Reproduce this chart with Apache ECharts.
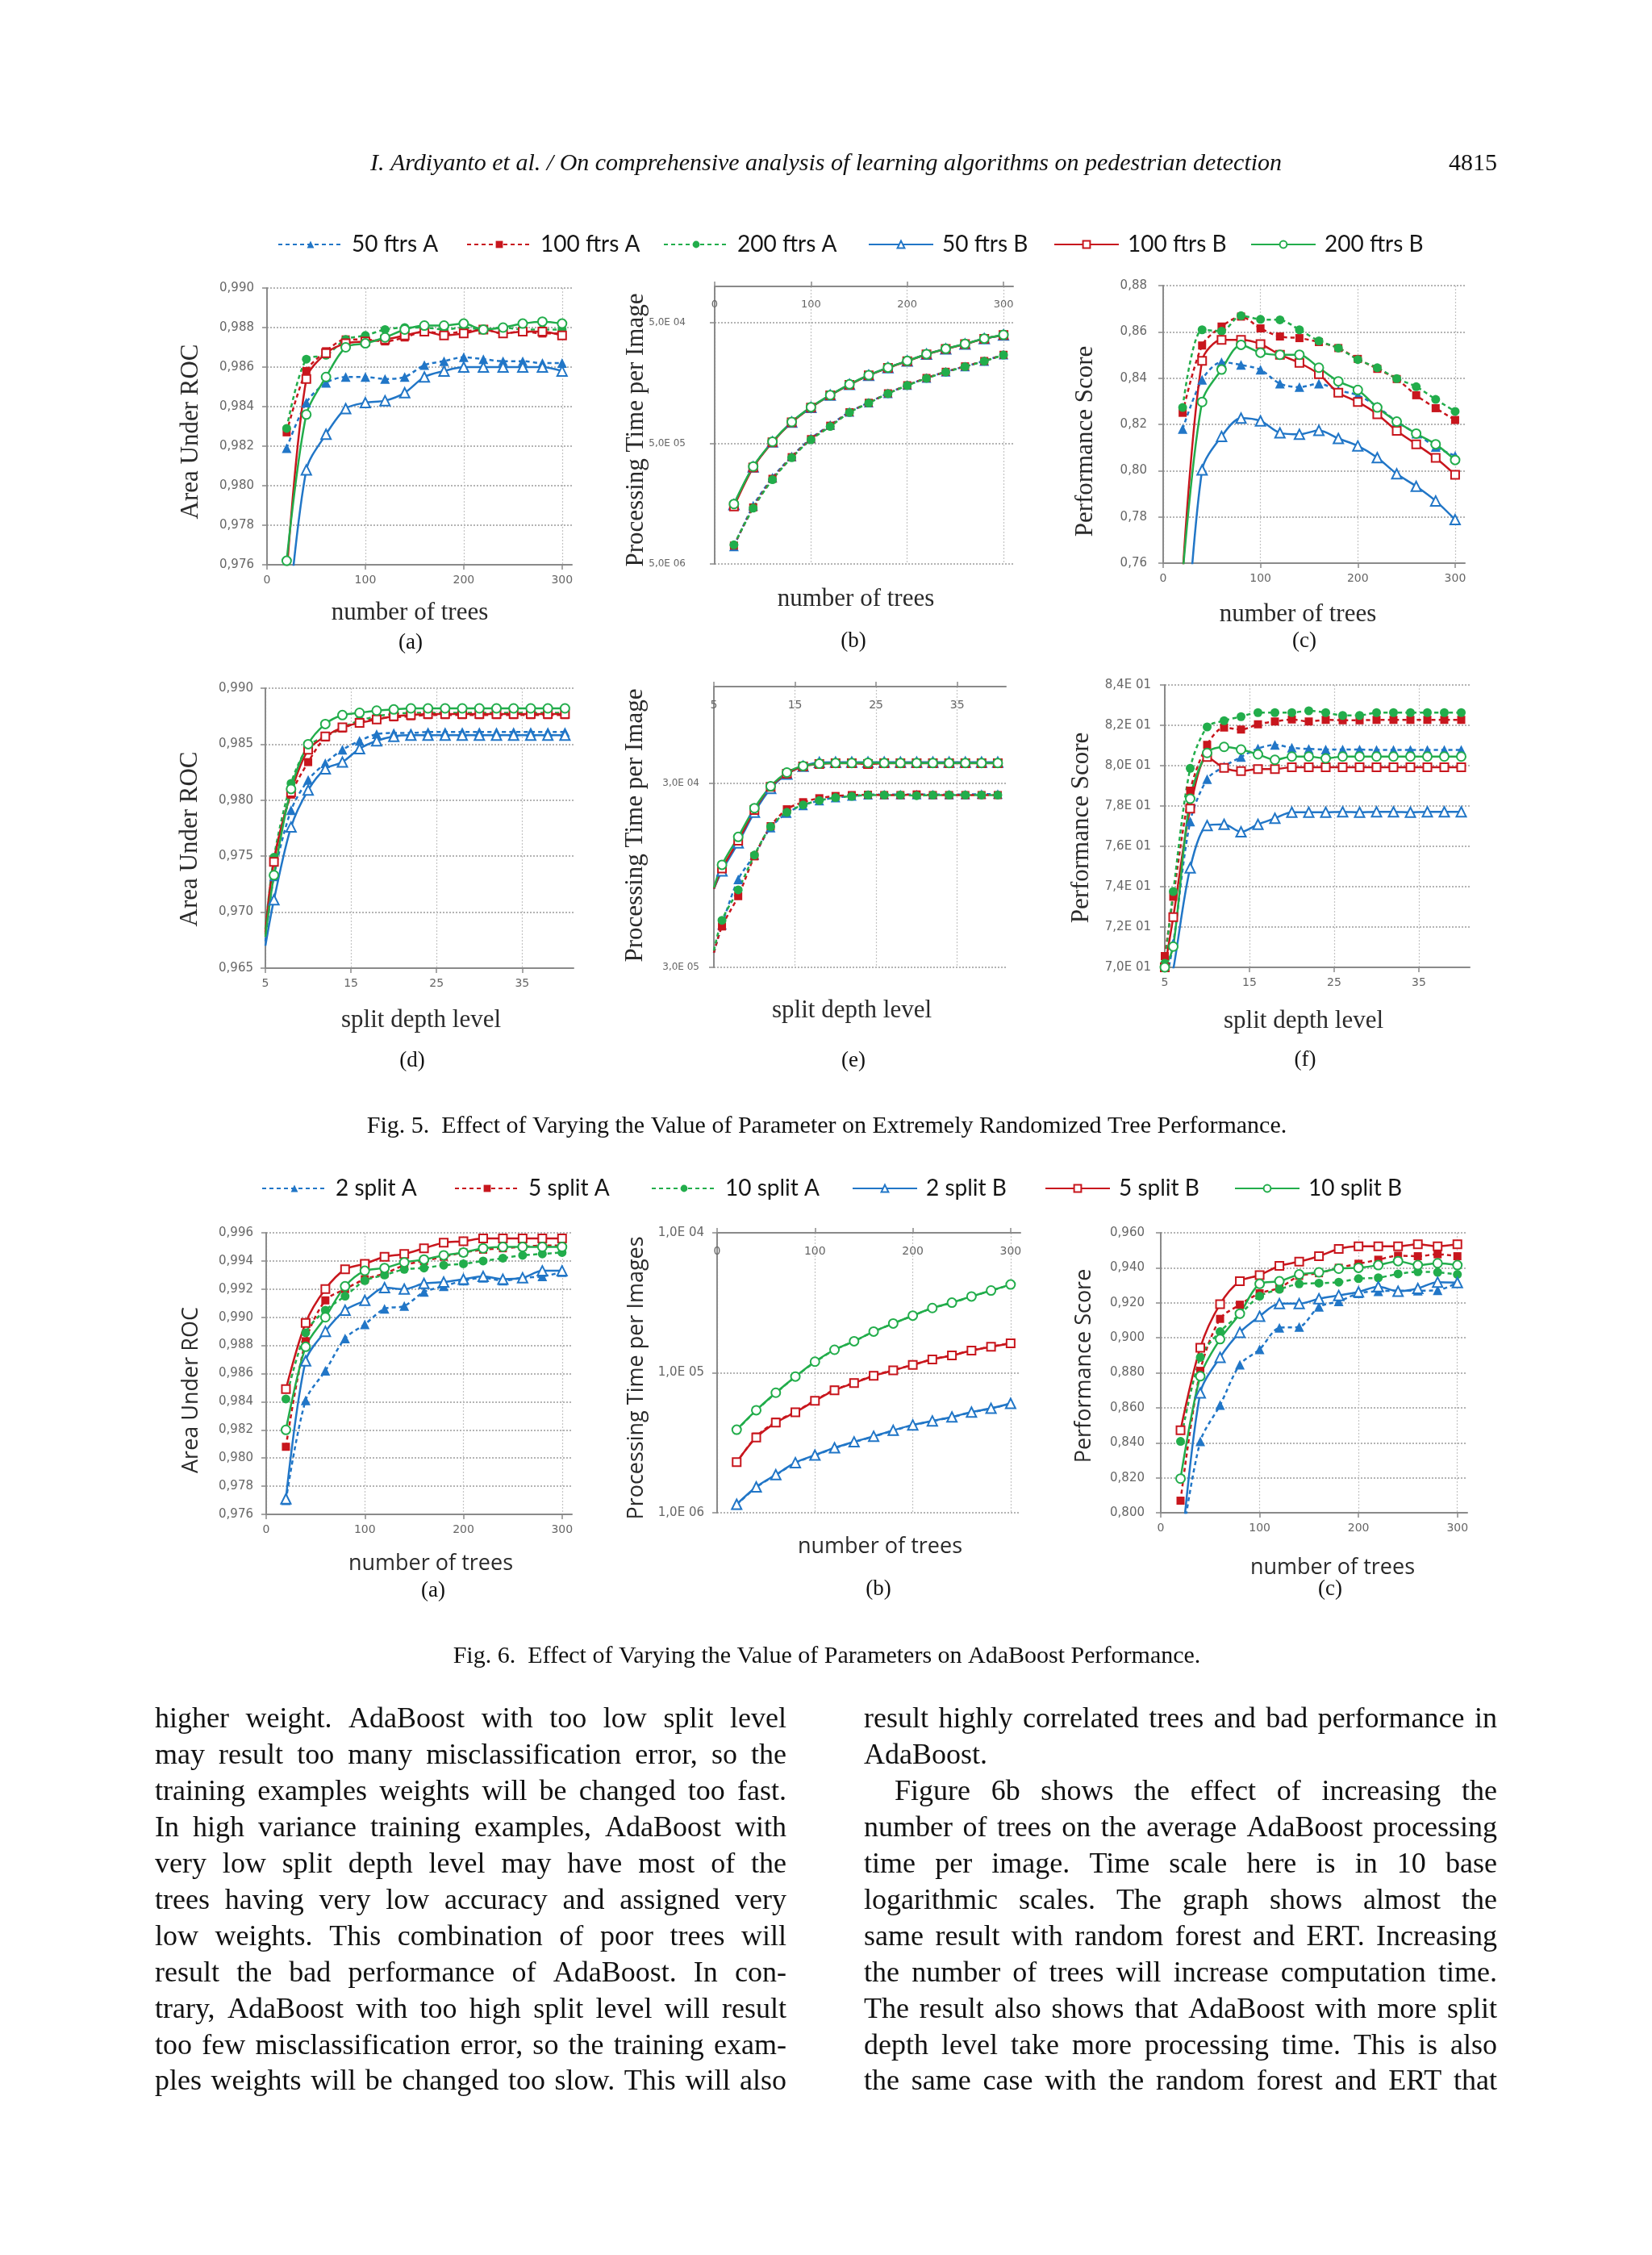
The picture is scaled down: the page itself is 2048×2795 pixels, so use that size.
<!DOCTYPE html>
<html><head><meta charset="utf-8">
<script src="https://cdn.jsdelivr.net/npm/echarts@6/dist/echarts.min.js"></script>
<style>html,body{margin:0;padding:0;background:#fff;}#c{width:2048px;height:2795px;}</style>
</head><body><div id="c"></div>
<script>
// ---------- categories / x values ----------
const treesX = [20,40,60,80,100,120,140,160,180,200,220,240,260,280,300];
const depthX = [5,6,8,10,12,14,16,18,20,22,24,26,28,30,32,34,36,38,40];
const treeTicks = [0,100,200,300];
const depthTicks = [5,15,25,35];

// ---------- Fig 5 (a) AUC vs trees ----------
const a50A  = [0.9819,0.9842,0.9852,0.9855,0.9855,0.9854,0.9855,0.9861,0.9863,0.9865,0.9864,0.9863,0.9863,0.9862,0.9862];
const a100A = [0.9827,0.9858,0.9868,0.9874,0.9874,0.9873,0.9875,0.9878,0.9877,0.9878,0.9879,0.9877,0.9878,0.9877,0.9877];
const a200A = [0.9829,0.9864,0.9866,0.9874,0.9876,0.9879,0.9880,0.9880,0.9879,0.9880,0.9879,0.9880,0.9879,0.9879,0.9879];
const a50B  = [0.9724,0.9808,0.9826,0.9839,0.9842,0.9843,0.9847,0.9855,0.9858,0.9860,0.9860,0.9860,0.9860,0.9860,0.9858];
const a100B = [0.9755,0.9854,0.9867,0.9872,0.9873,0.9874,0.9876,0.9878,0.9876,0.9877,0.9879,0.9877,0.9878,0.9878,0.9876];
const a200B = [0.9762,0.9836,0.9855,0.9870,0.9872,0.9875,0.9879,0.9881,0.9881,0.9882,0.9879,0.9880,0.9882,0.9883,0.9882];
// ---------- Fig 5 (b) time vs trees (log) ----------
const b50A  = [7.0e-6,1.52e-5,2.60e-5,3.90e-5,5.50e-5,7.10e-5,9.10e-5,1.09e-4,1.30e-4,1.52e-4,1.74e-4,1.96e-4,2.17e-4,2.41e-4,2.72e-4];
const b100A = [7.1e-6,1.47e-5,2.54e-5,3.84e-5,5.42e-5,7.00e-5,9.06e-5,1.085e-4,1.299e-4,1.516e-4,1.741e-4,1.96e-4,2.173e-4,2.408e-4,2.71e-4];
const b200A = [7.2e-6,1.45e-5,2.50e-5,3.80e-5,5.35e-5,6.90e-5,9.00e-5,1.08e-4,1.29e-4,1.51e-4,1.73e-4,1.95e-4,2.16e-4,2.40e-4,2.70e-4];
const b50B  = [1.55e-5,3.19e-5,5.14e-5,7.49e-5,9.94e-5,1.253e-4,1.539e-4,1.833e-4,2.118e-4,2.408e-4,2.74e-4,3.036e-4,3.33e-4,3.69e-4,3.96e-4];
const b100B = [1.50e-5,3.15e-5,5.10e-5,7.45e-5,9.90e-5,1.25e-4,1.53e-4,1.83e-4,2.11e-4,2.40e-4,2.73e-4,3.03e-4,3.32e-4,3.68e-4,3.95e-4];
const b200B = [1.57e-5,3.21e-5,5.16e-5,7.52e-5,9.98e-5,1.256e-4,1.543e-4,1.837e-4,2.122e-4,2.412e-4,2.745e-4,3.04e-4,3.335e-4,3.695e-4,3.97e-4];
// ---------- Fig 5 (c) performance vs trees ----------
const c50A  = [0.8180,0.8393,0.8469,0.8457,0.8436,0.8376,0.8361,0.8376,0.8347,0.8326,0.8277,0.8212,0.8160,0.8102,0.8064];
const c100A = [0.8250,0.8541,0.8623,0.8666,0.8615,0.8580,0.8573,0.8556,0.8530,0.8483,0.8440,0.8396,0.8326,0.8270,0.8219];
const c200A = [0.8273,0.8609,0.8603,0.8670,0.8654,0.8652,0.8609,0.8561,0.8530,0.8480,0.8445,0.8398,0.8363,0.8308,0.8256];
const c50B  = [0.7000,0.8003,0.8148,0.8227,0.8215,0.8163,0.8157,0.8174,0.8139,0.8107,0.8056,0.7986,0.7932,0.7869,0.7788];
const c100B = [0.7550,0.8475,0.8565,0.8565,0.8547,0.8501,0.8466,0.8417,0.8337,0.8297,0.8244,0.8172,0.8114,0.8055,0.7982];
const c200B = [0.7550,0.8297,0.8437,0.8544,0.8510,0.8501,0.8501,0.8445,0.8386,0.8349,0.8273,0.8212,0.8160,0.8114,0.8046];
// ---------- Fig 5 (d) AUC vs depth ----------
const d50A  = [0.9674,0.9732,0.9791,0.9818,0.9833,0.9845,0.9853,0.9859,0.9860,0.9860,0.9861,0.9861,0.9861,0.9861,0.9861,0.9861,0.9861,0.9861,0.9861];
const d100A = [0.9682,0.9747,0.9805,0.9834,0.9856,0.9864,0.9870,0.9873,0.9874,0.9875,0.9876,0.9876,0.9876,0.9876,0.9876,0.9876,0.9876,0.9876,0.9876];
const d200A = [0.9685,0.9749,0.9815,0.9848,0.9857,0.9865,0.9871,0.9875,0.9877,0.9878,0.9878,0.9878,0.9878,0.9878,0.9878,0.9878,0.9878,0.9878,0.9878];
const d50B  = [0.9670,0.9711,0.9776,0.9809,0.9828,0.9834,0.9846,0.9853,0.9857,0.9858,0.9858,0.9858,0.9858,0.9858,0.9858,0.9858,0.9858,0.9858,0.9858];
const d100B = [0.9680,0.9745,0.9807,0.9845,0.9857,0.9865,0.9869,0.9872,0.9875,0.9876,0.9877,0.9877,0.9877,0.9877,0.9877,0.9877,0.9877,0.9877,0.9877];
const d200B = [0.9678,0.9733,0.9810,0.9850,0.9868,0.9876,0.9878,0.9880,0.9881,0.9882,0.9882,0.9882,0.9882,0.9882,0.9882,0.9882,0.9882,0.9882,0.9882];
// ---------- Fig 5 (e) time vs depth (log) ----------
const e50A  = [3.6e-5,5.1e-5,9.0e-5,1.22e-4,1.72e-4,2.06e-4,2.27e-4,2.41e-4,2.50e-4,2.55e-4,2.59e-4,2.60e-4,2.60e-4,2.60e-4,2.60e-4,2.60e-4,2.60e-4,2.61e-4,2.61e-4];
const e100A = [3.6e-5,5.0e-5,7.3e-5,1.20e-4,1.75e-4,2.16e-4,2.36e-4,2.48e-4,2.55e-4,2.58e-4,2.59e-4,2.58e-4,2.58e-4,2.60e-4,2.58e-4,2.58e-4,2.58e-4,2.58e-4,2.58e-4];
const e200A = [3.7e-5,5.4e-5,7.9e-5,1.22e-4,1.74e-4,2.08e-4,2.28e-4,2.41e-4,2.50e-4,2.54e-4,2.58e-4,2.58e-4,2.58e-4,2.56e-4,2.58e-4,2.58e-4,2.58e-4,2.58e-4,2.58e-4];
const e50B  = [8.0e-5,1.00e-4,1.42e-4,2.08e-4,2.80e-4,3.35e-4,3.70e-4,3.88e-4,3.89e-4,3.89e-4,3.89e-4,3.89e-4,3.89e-4,3.89e-4,3.89e-4,3.89e-4,3.89e-4,3.89e-4,3.89e-4];
const e100B = [8.0e-5,1.03e-4,1.46e-4,2.14e-4,2.86e-4,3.37e-4,3.69e-4,3.80e-4,3.84e-4,3.84e-4,3.80e-4,3.84e-4,3.84e-4,3.84e-4,3.84e-4,3.84e-4,3.84e-4,3.84e-4,3.84e-4];
const e200B = [8.1e-5,1.08e-4,1.53e-4,2.19e-4,2.88e-4,3.42e-4,3.71e-4,3.82e-4,3.85e-4,3.85e-4,3.86e-4,3.85e-4,3.85e-4,3.85e-4,3.85e-4,3.85e-4,3.85e-4,3.85e-4,3.85e-4];
// ---------- Fig 5 (f) performance vs depth ----------
const f50A  = [0.690,0.712,0.7723,0.7933,0.7996,0.8043,0.8085,0.8103,0.8089,0.8083,0.8080,0.8080,0.8080,0.8078,0.8078,0.8078,0.8078,0.8078,0.8078];
const f100A = [0.7056,0.735,0.7876,0.8103,0.8189,0.8179,0.8205,0.8219,0.8229,0.8219,0.8227,0.8225,0.8225,0.8227,0.8227,0.8227,0.8227,0.8227,0.8227];
const f200A = [0.702,0.7376,0.7987,0.8192,0.8223,0.8243,0.8263,0.8263,0.8263,0.8272,0.8263,0.8249,0.8249,0.8263,0.8263,0.8263,0.8263,0.8263,0.8263];
const f50B  = [0.680,0.699,0.7493,0.7703,0.7709,0.7672,0.7709,0.7739,0.7769,0.7769,0.7769,0.7771,0.7769,0.7771,0.7771,0.7769,0.7771,0.7771,0.7771];
const f100B = [0.700,0.7249,0.7787,0.8043,0.7989,0.7973,0.7983,0.7983,0.7992,0.7992,0.7992,0.7992,0.7992,0.7992,0.7992,0.7992,0.7992,0.7992,0.7992];
const f200B = [0.700,0.7103,0.7836,0.8063,0.8093,0.8080,0.8056,0.8029,0.8045,0.8045,0.8036,0.8045,0.8045,0.8045,0.8045,0.8045,0.8045,0.8045,0.8045];
// ---------- Fig 6 (a) AUC vs trees ----------
const g2A  = [0.9770,0.9841,0.9862,0.9885,0.9895,0.9906,0.9908,0.9918,0.9922,0.9926,0.9928,0.9926,0.9928,0.9929,0.9932];
const g5A  = [0.9808,0.9883,0.9912,0.9920,0.9927,0.9931,0.9937,0.9940,0.9943,0.9946,0.9948,0.9949,0.9950,0.9951,0.9951];
const g10A = [0.9842,0.9889,0.9905,0.9915,0.9926,0.9930,0.9934,0.9935,0.9937,0.9938,0.9940,0.9942,0.9944,0.9945,0.9946];
const g2B  = [0.9771,0.9869,0.9890,0.9905,0.9912,0.9921,0.9920,0.9924,0.9925,0.9927,0.9929,0.9927,0.9928,0.9933,0.9933];
const g5B  = [0.9849,0.9896,0.9920,0.9934,0.9938,0.9943,0.9945,0.9949,0.9953,0.9954,0.9956,0.9956,0.9956,0.9956,0.9956];
const g10B = [0.9820,0.9879,0.9900,0.9922,0.9933,0.9935,0.9939,0.9941,0.9944,0.9946,0.9949,0.9950,0.9950,0.9950,0.9950];
// ---------- Fig 6 (b) time vs trees (log) ----------
const h2A  = [1.14e-6,1.52e-6,1.86e-6,2.27e-6,2.57e-6,2.89e-6,3.20e-6,3.50e-6,3.86e-6,4.22e-6,4.51e-6,4.82e-6,5.22e-6,5.55e-6,6.01e-6];
const h5A  = [2.29e-6,3.50e-6,4.47e-6,5.26e-6,6.34e-6,7.56e-6,8.49e-6,9.57e-6,1.045e-5,1.142e-5,1.248e-5,1.334e-5,1.444e-5,1.537e-5,1.627e-5];
const h10A = [3.89e-6,5.38e-6,7.17e-6,9.36e-6,1.19e-5,1.457e-5,1.679e-5,1.968e-5,2.248e-5,2.556e-5,2.894e-5,3.16e-5,3.50e-5,3.86e-5,4.25e-5];
const h2B  = [1.15e-6,1.53e-6,1.87e-6,2.28e-6,2.58e-6,2.91e-6,3.21e-6,3.52e-6,3.88e-6,4.24e-6,4.53e-6,4.84e-6,5.24e-6,5.57e-6,6.04e-6];
const h5B  = [2.30e-6,3.45e-6,4.40e-6,5.22e-6,6.30e-6,7.50e-6,8.44e-6,9.52e-6,1.04e-5,1.138e-5,1.244e-5,1.330e-5,1.440e-5,1.533e-5,1.622e-5];
const h10B = [3.92e-6,5.40e-6,7.20e-6,9.40e-6,1.20e-5,1.46e-5,1.68e-5,1.97e-5,2.25e-5,2.56e-5,2.90e-5,3.17e-5,3.51e-5,3.87e-5,4.27e-5];
// ---------- Fig 6 (c) performance vs trees ----------
const k2A  = [0.778,0.8408,0.8615,0.8846,0.8934,0.9057,0.9062,0.9177,0.9208,0.9254,0.9266,0.9269,0.9269,0.9272,0.9315];
const k5A  = [0.8069,0.8811,0.9108,0.9189,0.9254,0.9285,0.9354,0.9369,0.9400,0.9423,0.9446,0.9469,0.9466,0.9477,0.9466];
const k10A = [0.8408,0.8888,0.9035,0.9134,0.9238,0.9277,0.9308,0.9312,0.9318,0.9338,0.9343,0.9365,0.9377,0.9374,0.9362];
const k2B  = [0.772,0.8685,0.8888,0.9031,0.9123,0.9195,0.9195,0.9223,0.9242,0.9262,0.9292,0.9266,0.9282,0.9318,0.9315];
const k5B  = [0.8472,0.8943,0.9192,0.9323,0.9358,0.9411,0.9435,0.9466,0.9508,0.9523,0.9523,0.9523,0.9534,0.9523,0.9534];
const k10B = [0.8195,0.8780,0.8992,0.9138,0.9308,0.9323,0.9362,0.9374,0.9395,0.9400,0.9415,0.9438,0.9415,0.9426,0.9415];

// ---------- log-axis tick values ----------
const ticksB5 = [5e-6,5e-5,5e-4];
const ticksE5 = [3e-5,3e-4];
const ticksB6 = [1e-6,1e-5,1e-4];

// ---------- styling ----------
const BLUE='#2176c7', RED='#c8161d', GREEN='#22ad4b';
const STY = {
  '50 ftrs A':{c:BLUE,s:'triangle'}, '100 ftrs A':{c:RED,s:'rect'}, '200 ftrs A':{c:GREEN,s:'circle'},
  '50 ftrs B':{c:BLUE,s:'triangle'}, '100 ftrs B':{c:RED,s:'rect'}, '200 ftrs B':{c:GREEN,s:'circle'},
  '2 split A':{c:BLUE,s:'triangle'}, '5 split A':{c:RED,s:'rect'}, '10 split A':{c:GREEN,s:'circle'},
  '2 split B':{c:BLUE,s:'triangle'}, '5 split B':{c:RED,s:'rect'}, '10 split B':{c:GREEN,s:'circle'}
};
function ser(name, gi, xs, ys, hideAtAxis){
  const st = STY[name]; const isA = name.endsWith('A');
  const size = st.s==='triangle'?12:(st.s==='rect'?10:11);
  return {type:'line', name, xAxisIndex:gi, yAxisIndex:gi, animation:false, clip:true,
    data: xs.map((x,i)=> (hideAtAxis && i===0) ? {value:[x, ys[i]], symbol:'none'} : [x, ys[i]]),
    smooth:0.3, symbol:st.s, symbolSize:size, showAllSymbol:true,
    lineStyle:{color:st.c, width:2.5, type: isA?[5,4]:'solid'},
    itemStyle:{color: isA?st.c:'#ffffff', borderColor:st.c, borderWidth: isA?0:2},
    emphasis:{disabled:true}};
}
const grids = [
  {left:331,top:357,width:378,height:343},
  {left:886,top:355,width:370,height:344},
  {left:1442,top:354,width:374,height:344},
  {left:329,top:853,width:382,height:347},
  {left:885,top:851,width:362,height:348},
  {left:1444,top:849,width:378,height:350},
  {left:330,top:1528,width:379,height:349},
  {left:889,top:1528,width:376,height:347},
  {left:1439,top:1528,width:380,height:347}
];
const AX = '#8a8a8a', LBL = '#666666', TF = 'DejaVu Sans';
function xAx(gi, trees, top, size){
  const ticks = trees?treeTicks:depthTicks;
  return {type:'value', gridIndex:gi, min: trees?0:5, max: trees?310:41, position: top?'top':'bottom',
    axisLine:{show:true,onZero:false,lineStyle:{color:AX,width:2}},
    axisTick:{show:true,length:6,customValues:ticks,lineStyle:{color:AX,width:1.5}},
    axisLabel:{customValues:ticks, inside:!!top, margin: top?16:12, color:LBL, fontFamily:TF, fontSize:size||14},
    splitLine:{show:true,lineStyle:{color:'#c4c4c4',type:[2,2],width:1.2}}};
}
function dec(n){ return v => v.toFixed(n).replace('.', ','); }
function sci(v){ const e=Math.floor(Math.log10(v)+1e-9); const m=v/Math.pow(10,e); return m.toFixed(1).replace('.',',')+'E '+String(Math.abs(e)).padStart(2,'0'); }
function yVal(gi, min, max, interval, fmt, margin, size){
  return {type:'value', gridIndex:gi, min, max, interval,
    axisLine:{show:true,lineStyle:{color:AX,width:2}},
    axisTick:{show:true,length:6,lineStyle:{color:AX,width:1.5}},
    axisLabel:{formatter:fmt, margin, color:LBL, fontFamily:TF, fontSize:size||15},
    splitLine:{show:true,lineStyle:{color:'#9c9c9c',type:[2,2],width:1.5}}};
}
function yLog(gi, min, max, ticks, margin, size){
  return {type:'log', logBase:10, gridIndex:gi, min, max,
    axisLine:{show:true,lineStyle:{color:AX,width:2}},
    axisTick:{show:true,length:6,customValues:ticks,lineStyle:{color:AX,width:1.5}},
    axisLabel:{customValues:ticks, formatter:sci, margin, color:LBL, fontFamily:TF, fontSize:size||15},
    splitLine:{show:true,lineStyle:{color:'#9c9c9c',type:[2,2],width:1.5}}};
}
const xAxes = [xAx(0,true,false), xAx(1,true,true,13), xAx(2,true,false), xAx(3,false,false), xAx(4,false,true,14), xAx(5,false,false),
  xAx(6,true,false), xAx(7,true,true), xAx(8,true,false)];
const yAxes = [
  yVal(0,0.976,0.990,0.002,dec(3),16),
  yLog(1,5e-6,1e-3,ticksB5,36,12),
  yVal(2,0.76,0.88,0.02,dec(2),20),
  yVal(3,0.965,0.990,0.005,dec(3),15),
  yLog(4,3e-5,1e-3,ticksE5,18,12),
  yVal(5,0.70,0.84,0.02,sci,17),
  yVal(6,0.976,0.996,0.002,dec(3),16),
  yLog(7,1e-6,1e-4,ticksB6,16,15),
  yVal(8,0.80,0.96,0.02,dec(3),20)
];
const F5 = ['50 ftrs A','100 ftrs A','200 ftrs A','50 ftrs B','100 ftrs B','200 ftrs B'];
const F6 = ['2 split A','5 split A','10 split A','2 split B','5 split B','10 split B'];
const series = [];
[[0,treesX,[a50A,a100A,a200A,a50B,a100B,a200B],false],[1,treesX,[b50A,b100A,b200A,b50B,b100B,b200B],false],[2,treesX,[c50A,c100A,c200A,c50B,c100B,c200B],false],
 [3,depthX,[d50A,d100A,d200A,d50B,d100B,d200B],true],[4,depthX,[e50A,e100A,e200A,e50B,e100B,e200B],true],[5,depthX,[f50A,f100A,f200A,f50B,f100B,f200B],false]]
 .forEach(([gi,xs,arrs,hide]) => arrs.forEach((ys,i)=>series.push(ser(F5[i],gi,xs,ys,hide))));
[[6,[g2A,g5A,g10A,g2B,g5B,g10B]],[7,[h2A,h5A,h10A,h2B,h5B,h10B]],[8,[k2A,k5A,k10A,k2B,k5B,k10B]]]
 .forEach(([gi,arrs]) => arrs.forEach((ys,i)=>series.push(ser(F6[i],gi,treesX,ys,false))));

// legends: one per entry
const legPos5 = [344,578,822,1076,1306,1550];
const legPos6 = [324,563,807,1056,1295,1530];
const legends = [];
function leg(name, left, top){
  legends.push({data:[name], left, top, orient:'horizontal', padding:0, itemGap:0, itemWidth:80, itemHeight:11, selectedMode:false,
    textStyle:{fontFamily:'Lato', fontSize:28, color:'#161616', padding:[0,0,0,6], lineHeight:30}});
}
F5.forEach((n,i)=>leg(n, legPos5[i], 288));
F6.forEach((n,i)=>leg(n, legPos6[i], 1458));

// ---------- texts ----------
const g = [];
function T(text, x, y, font, opt){ opt=opt||{};
  g.push({type:'text', x, y, rotation: opt.rot||0, silent:true,
    style:{text, font, fill: opt.fill||'#2a2a2a', align: opt.align||'center', verticalAlign:'middle'}});
}
const SERIF='"Liberation Serif", "Times New Roman", serif', SANS='"Open Sans", sans-serif';
const ROT = Math.PI/2;
T('I. Ardiyanto et al. / On comprehensive analysis of learning algorithms on pedestrian detection', 1024, 203, 'italic 30px '+SERIF, {fill:'#111'});
T('4815', 1856, 203, '30px '+SERIF, {align:'right', fill:'#111'});
// fig 5 panel texts
T('Area Under ROC', 237, 535, '31px '+SERIF, {rot:ROT});
T('number of trees', 508, 760, '31px '+SERIF);
T('(a)', 509, 797, '27px '+SERIF, {fill:'#111'});
T('Processing Time per Image', 789, 533, '31px '+SERIF, {rot:ROT});
T('number of trees', 1061, 743, '31px '+SERIF);
T('(b)', 1058, 795, '27px '+SERIF, {fill:'#111'});
T('Performance Score', 1346, 547, '31px '+SERIF, {rot:ROT});
T('number of trees', 1609, 762, '31px '+SERIF);
T('(c)', 1617, 795, '27px '+SERIF, {fill:'#111'});
T('Area Under ROC', 236, 1040, '31px '+SERIF, {rot:ROT});
T('split depth level', 522, 1265, '31px '+SERIF);
T('(d)', 511, 1315, '27px '+SERIF, {fill:'#111'});
T('Processing Time per Image', 788, 1023, '31px '+SERIF, {rot:ROT});
T('split depth level', 1056, 1253, '31px '+SERIF);
T('(e)', 1058, 1315, '27px '+SERIF, {fill:'#111'});
T('Performance Score', 1341, 1026, '31px '+SERIF, {rot:ROT});
T('split depth level', 1616, 1266, '31px '+SERIF);
T('(f)', 1618, 1314, '27px '+SERIF, {fill:'#111'});
T('Fig. 5.  Effect of Varying the Value of Parameter on Extremely Randomized Tree Performance.', 1025, 1396, '30px '+SERIF, {fill:'#111'});
// fig 6 panel texts
T('Area Under ROC', 237, 1723, '27px '+SANS, {rot:ROT});
T('number of trees', 534, 1938, '27px '+SANS);
T('(a)', 537, 1972, '27px '+SERIF, {fill:'#111'});
T('Processing Time per Images', 789, 1708, '27px '+SANS, {rot:ROT});
T('number of trees', 1091, 1917, '27px '+SANS);
T('(b)', 1089, 1970, '27px '+SERIF, {fill:'#111'});
T('Performance Score', 1344, 1693, '27px '+SANS, {rot:ROT});
T('number of trees', 1652, 1943, '27px '+SANS);
T('(c)', 1649, 1970, '27px '+SERIF, {fill:'#111'});
T('Fig. 6.  Effect of Varying the Value of Parameters on AdaBoost Performance.', 1025, 2053, '30px '+SERIF, {fill:'#111'});

// body text (justified columns)
const leftLines = [
 'higher weight. AdaBoost with too low split level',
 'may result too many misclassification error, so the',
 'training examples weights will be changed too fast.',
 'In high variance training examples, AdaBoost with',
 'very low split depth level may have most of the',
 'trees having very low accuracy and assigned very',
 'low weights. This combination of poor trees will',
 'result the bad performance of AdaBoost. In con-',
 'trary, AdaBoost with too high split level will result',
 'too few misclassification error, so the training exam-',
 'ples weights will be changed too slow. This will also'
];
const rightLines = [
 'result highly correlated trees and bad performance in',
 'AdaBoost.',
 'Figure 6b shows the effect of increasing the',
 'number of trees on the average AdaBoost processing',
 'time per image. Time scale here is in 10 base',
 'logarithmic scales. The graph shows almost the',
 'same result with random forest and ERT. Increasing',
 'the number of trees will increase computation time.',
 'The result also shows that AdaBoost with more split',
 'depth level take more processing time. This is also',
 'the same case with the random forest and ERT that'
];
const BODY_FONT = '36px '+SERIF;
const mctx = document.createElement('canvas').getContext('2d');
function justify(text, x0, x1, y, just){
  mctx.font = BODY_FONT;
  const words = text.split(' ');
  const ws = words.map(w=>mctx.measureText(w).width);
  const tot = ws.reduce((a,b)=>a+b,0);
  const gap = (just && words.length>1) ? (x1-x0-tot)/(words.length-1) : mctx.measureText(' ').width;
  let x = x0;
  words.forEach((w,i)=>{ g.push({type:'text', x, y, silent:true, style:{text:w, font:BODY_FONT, fill:'#111', align:'left', verticalAlign:'middle'}}); x += ws[i]+gap; });
}
leftLines.forEach((t,i)=>justify(t, 192, 975, 2132+i*44.9, true));
rightLines.forEach((t,i)=>{
  const x0 = i===2 ? 1109 : 1071;
  justify(t, x0, 1856, 2132+i*44.9, i!==1);
});

const chart = echarts.init(document.getElementById('c'), null, {renderer:'canvas', width:2048, height:2795});
chart.setOption({
  backgroundColor:'#ffffff', animation:false,
  grid: grids, xAxis: xAxes, yAxis: yAxes, series, legend: legends, graphic: g
});
</script></body></html>
